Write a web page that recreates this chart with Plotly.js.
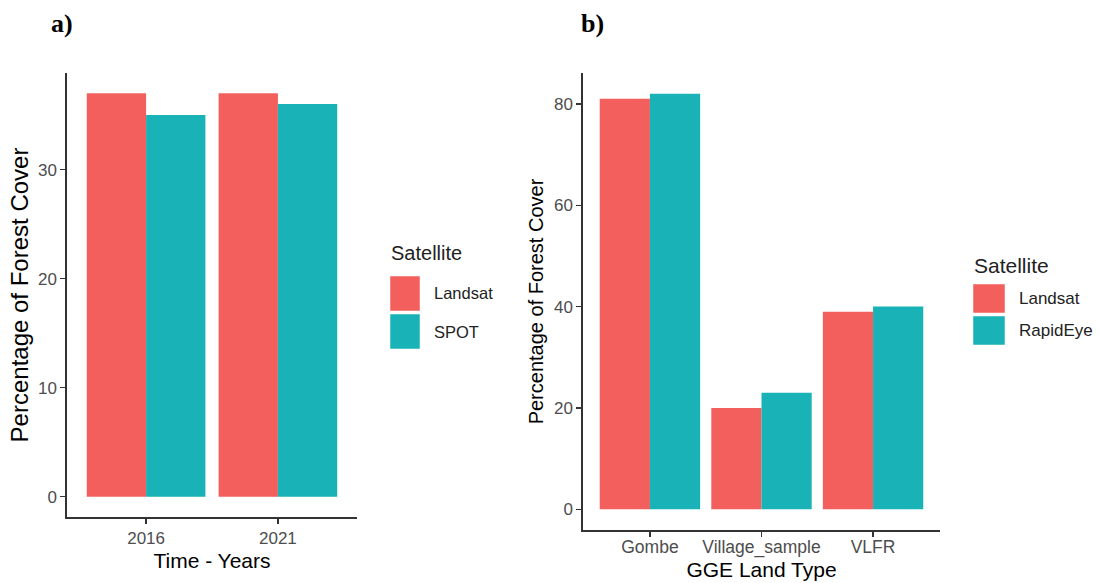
<!DOCTYPE html>
<html>
<head>
<meta charset="utf-8">
<script src="https://cdn.plot.ly/plotly-3.0.1.min.js"></script>
<style>html,body{margin:0;padding:0;background:#fff;}#chart{width:1099px;height:583px;}</style>
</head>
<body>
<div id="chart"></div>
<script>
// ---- data ----
const years = ['2016', '2021'];
const landsatA = [37, 37];
const spotA = [35, 36];
const landTypes = ['Gombe', 'Village_sample', 'VLFR'];
const landsatB = [81, 20, 39];
const rapidEyeB = [82, 23, 40];
const seriesNamesA = ['Landsat', 'SPOT'];
const seriesNamesB = ['Landsat', 'RapidEye'];
const yTicksA = [0, 10, 20, 30];
const yTicksB = [0, 20, 40, 60, 80];

// ---- style ----
const W = 1099, H = 583;
const RED = '#F25F5C', TEAL = '#19B2B6';
const FONT = 'Liberation Sans, Arial, sans-serif';
const px = x => x / W;
const py = y => 1 - y / H;

function yRange(arrs) {
  const m = Math.max(...arrs.flat());
  return [-m * 0.05, m * 1.05];
}

const traces = [
  {type: 'bar', x: years, y: landsatA, name: seriesNamesA[0], marker: {color: RED}, xaxis: 'x', yaxis: 'y', showlegend: false},
  {type: 'bar', x: years, y: spotA, name: seriesNamesA[1], marker: {color: TEAL}, xaxis: 'x', yaxis: 'y', showlegend: false},
  {type: 'bar', x: landTypes, y: landsatB, name: seriesNamesB[0], marker: {color: RED}, xaxis: 'x2', yaxis: 'y2', showlegend: false},
  {type: 'bar', x: landTypes, y: rapidEyeB, name: seriesNamesB[1], marker: {color: TEAL}, xaxis: 'x2', yaxis: 'y2', showlegend: false}
];

const axisCommon = {
  showline: true, linecolor: '#333', linewidth: 1.6,
  ticks: 'outside', ticklen: 5, tickcolor: '#333', tickwidth: 1.2,
  showgrid: false, zeroline: false, fixedrange: true,
  tickfont: {family: FONT, size: 17, color: '#4D4D4D'}
};

const layout = {
  width: W, height: H,
  margin: {l: 0, r: 0, t: 0, b: 0},
  paper_bgcolor: '#fff', plot_bgcolor: '#fff',
  barmode: 'group', bargap: 0.1, bargroupgap: 0,
  font: {family: FONT, color: '#000'},
  showlegend: false,
  xaxis: Object.assign({}, axisCommon, {
    domain: [px(67), px(357)], anchor: 'y', type: 'category',
    range: [-0.6, years.length - 0.4],
    title: {text: 'Time - Years', font: {family: FONT, size: 21, color: '#000'}, standoff: 6}
  }),
  yaxis: Object.assign({}, axisCommon, {
    domain: [py(517), py(73)], anchor: 'x',
    range: yRange([landsatA, spotA]), tickvals: yTicksA,
    title: {text: 'Percentage of Forest Cover', font: {family: FONT, size: 24, color: '#000'}, standoff: 2}
  }),
  xaxis2: Object.assign({}, axisCommon, {
    domain: [px(583), px(940)], anchor: 'y2', type: 'category',
    range: [-0.6, landTypes.length - 0.4],
    ticklabelstandoff: -5,
    tickfont: {family: FONT, size: 17.5, color: '#4D4D4D'},
    title: {text: 'GGE Land Type', font: {family: FONT, size: 21, color: '#000'}, standoff: 0}
  }),
  yaxis2: Object.assign({}, axisCommon, {
    domain: [py(530), py(73)], anchor: 'x2',
    range: yRange([landsatB, rapidEyeB]), tickvals: yTicksB,
    title: {text: 'Percentage of Forest Cover', font: {family: FONT, size: 20, color: '#000'}, standoff: 5}
  }),
  shapes: [],
  annotations: []
};

// panel labels
layout.annotations.push(
  {text: '<b>a)</b>', xref: 'paper', yref: 'paper', x: px(49), y: py(23), xanchor: 'left', yanchor: 'middle', showarrow: false, font: {family: 'Liberation Serif, Times New Roman, serif', size: 26, color: '#000'}},
  {text: '<b>b)</b>', xref: 'paper', yref: 'paper', x: px(579), y: py(23), xanchor: 'left', yanchor: 'middle', showarrow: false, font: {family: 'Liberation Serif, Times New Roman, serif', size: 26, color: '#000'}}
);

// manual legends (large square keys like ggplot)
function addLegend(x0, titleY, names, colors, keyTops, keyW, keyH, labelX, titleSize, labelSize) {
  layout.annotations.push({text: 'Satellite', xref: 'paper', yref: 'paper', x: px(x0 - 1), y: py(titleY), xanchor: 'left', yanchor: 'middle', showarrow: false, font: {family: FONT, size: titleSize, color: '#222'}});
  names.forEach((n, i) => {
    layout.shapes.push({type: 'rect', xref: 'paper', yref: 'paper', x0: px(x0), x1: px(x0 + keyW), y0: py(keyTops[i] + keyH), y1: py(keyTops[i]), fillcolor: colors[i], line: {color: '#fff', width: 0.5}});
    layout.annotations.push({text: n, xref: 'paper', yref: 'paper', x: px(labelX), y: py(keyTops[i] + keyH / 2), xanchor: 'left', yanchor: 'middle', showarrow: false, font: {family: FONT, size: labelSize, color: '#222'}});
  });
}
addLegend(390, 253, seriesNamesA, [RED, TEAL], [276, 314], 30, 35, 432, 20, 16.5);
addLegend(973, 265, seriesNamesB, [RED, TEAL], [284, 316], 32, 29, 1017, 21, 17);

Plotly.newPlot('chart', traces, layout, {displayModeBar: false, staticPlot: true});
</script>
</body>
</html>
